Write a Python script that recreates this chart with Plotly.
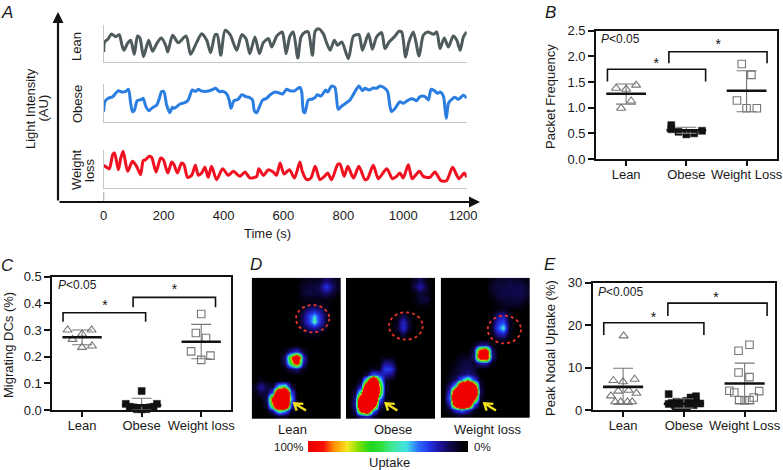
import plotly.graph_objects as go

W, H = 783, 470
FONT = "Liberation Sans"
TXT = "#1a1a1a"

# ---------- Panel A ----------
lean_t = [0,3,14,26,40,52,61,68,79,90,102,113,121,133,150,163,177,192,207,214,230,249,275,290,310,327,344,357,372,379,391,405,422,444,461,475,488,505,520,533,550,561,578,596,603,609,622,633,648,659,674,683,697,706,717,733,744,756,770,781,795,817,834,852,864,884,897,911,928,939,953,973,986,995,1008,1019,1034,1053,1067,1082,1101,1112,1123,1137,1151,1167,1179,1190,1201,1212]
lean_v = [31,61,69,85,77,83,51,36,56,66,24,79,73,17,66,33,56,73,51,31,81,59,79,24,59,86,66,29,83,83,21,96,83,36,83,71,26,76,26,59,71,46,79,91,61,26,79,91,13,76,91,91,21,93,101,86,59,36,66,51,61,11,79,83,36,86,39,76,89,41,61,79,93,91,16,61,91,19,81,91,84,91,41,73,46,79,66,36,76,91]
obese_t = [0,4,15,30,40,49,60,74,83,90,96,102,112,127,132,141,151,160,177,186,193,201,210,221,229,235,255,271,282,296,307,316,327,344,360,374,386,397,411,419,425,435,449,461,475,486,497,503,511,520,531,544,555,572,583,597,611,622,636,655,661,667,672,683,697,706,713,726,741,748,761,772,783,795,808,822,837,852,864,872,886,900,911,923,939,948,956,961,973,989,1000,1017,1030,1045,1056,1073,1084,1093,1104,1115,1123,1134,1140,1144,1151,1162,1173,1184,1201,1212]
obese_v = [31,61,71,76,86,94,90,92,98,56,31,34,64,68,71,46,34,41,51,71,91,91,51,28,44,41,54,58,66,96,92,98,93,92,96,101,91,92,84,66,41,64,68,82,76,74,66,34,28,46,66,71,81,90,88,84,98,94,93,104,91,31,28,66,69,74,82,78,96,90,108,104,38,48,56,66,88,108,94,101,96,102,101,108,101,91,46,31,41,61,56,66,70,64,76,76,66,98,94,86,90,78,36,11,56,68,74,68,80,72]
loss_t = [0,10,19,30,36,49,57,65,80,96,110,123,132,140,152,160,175,190,199,214,227,235,246,260,268,280,294,306,316,327,338,349,360,377,397,416,433,455,472,488,511,518,533,550,566,577,589,602,620,637,655,663,678,692,706,722,737,748,761,781,789,803,815,834,852,872,881,900,917,945,964,978,989,1000,1017,1030,1054,1067,1089,1106,1126,1145,1165,1186,1204,1212]
loss_v = [68,62,58,100,105,55,90,110,50,80,65,40,82,85,95,92,48,90,85,45,78,70,45,75,70,32,38,68,38,45,62,32,65,25,58,38,50,35,48,30,35,58,38,55,48,38,75,42,55,30,78,50,25,30,65,25,35,45,25,70,72,35,65,30,65,25,28,68,28,58,28,35,45,30,70,28,50,35,32,48,22,22,62,28,45,32]
time_ticks = [0,200,400,600,800,1000,1200]
line_colors = ["#4e5a5b", "#2a7de1", "#f01020"]

# ---------- Panels B, C, E ----------
group_names_b = ["Lean", "Obese", "Weight Loss"]
group_names_c = ["Lean", "Obese", "Weight loss"]

b_x = [[-0.166,0,0.166,0.083,-0.083],[0.75,0.75,0.87,1.0,1.13,1.26],[1.92,2.08,1.84,2.0,2.17]]
b_y = [[1.38,1.36,1.44,1.13,0.99],[0.66,0.58,0.53,0.48,0.5,0.55],[1.85,1.64,1.14,0.99,0.99]]
b_mean = [1.27,0.56,1.33]
b_hi = [1.46,0.62,1.72]
b_lo = [1.07,0.5,0.92]
b_br_x = [[-0.31,1.32],[0.71,2.34]]
b_br_top = [1.75,2.09]
b_br_leg = [1.51,1.865]
b_star_x = [0.5,1.53]
b_star_y = [1.84,2.21]

c_x = [[-0.244,0.16,0,-0.16,0,0.167],[1,0.733,1.256,0.86,1.14,1,0.92,1.08,0.8,1.2],[2,1.91,2.08,1.83,2.155,2]]
c_y = [[0.3,0.3,0.285,0.265,0.235,0.24],[0.071,0.023,0.023,0.01,0.01,0.003,0.003,0.003,0.012,0.012],[0.36,0.289,0.27,0.22,0.204,0.188]]
c_mean = [0.273,0.018,0.256]
c_hi = [0.3,0.044,0.321]
c_lo = [0.245,0.0,0.192]
c_br_x = [[-0.32,1.067],[0.856,2.24]]
c_br_top = [0.365,0.4225]
c_br_leg = [0.331,0.385]
c_star_x = [0.383,1.55]
c_star_y = [0.389,0.448]

e_x = [[0.01,-0.16,0,0.19,-0.08,0.09,-0.2,0.22,-0.13,-0.04,0.07,0.15],
       [0.75,1.11,1.2,0.8,0.88,0.96,1.04,1.12,1.2,1.27,0.75,0.85,0.92,1.0,1.08,1.16,0.95,1.05,0.87],
       [2.08,1.9,1.9,2.08,1.75,1.83,2.24,2.15,1.91,2.0,2.08]]
e_y = [[17.5,7,6.7,7.3,4.5,4.7,3.4,4,2,2,2,2],
       [3.8,3,3.3,1.7,2.0,1.8,2.2,2.0,1.8,1.6,1.5,1.2,1.4,1.7,1.4,1.2,0.6,0.7,0.8],
       [15.4,14,8.9,7.8,4.6,4.2,4.5,3,2.4,2.3,2.4]]
e_mean = [5.5,1.55,6.3]
e_hi = [9.9,2.7,11.1]
e_lo = [1.4,0.5,1.6]
e_br_x = [[-0.318,1.33],[0.737,2.37]]
e_br_top = [20.6,25.2]
e_br_leg = [17.7,22.2]
e_star_x = [0.5,1.53]
e_star_y = [21.6,26.2]

# ---------- Panel D ----------
lean_scan = [
 [0,0,0,0,0,0,0,0,2,3,3,4,9,6,2],
 [0,0,0,0,0,0,0,0,4,5,5,8,24,10,3],
 [0,0,0,0,0,0,0,0,4,6,5,6,10,5,2],
 [0,0,0,0,0,0,0,0,2,2,2,2,2,1,0],
 [0,0,0,0,0,0,0,0,1,2,3,2,1,0,0],
 [0,0,0,0,0,0,0,0,4,12,15,10,3,0,0],
 [0,0,0,0,0,0,0,0,8,24,40,20,4,0,0],
 [0,0,0,0,0,0,0,0,8,24,48,20,4,0,0],
 [0,0,0,0,0,0,0,0,4,10,14,9,2,0,0],
 [0,0,0,0,0,0,0,0,1,2,2,1,0,0,0],
 [0,0,0,0,0,0,0,0,0,0,0,0,0,0,0],
 [0,0,0,0,0,0,0,1,0,0,0,0,0,0,0],
 [0,0,0,0,0,2,14,22,5,0,0,0,0,0,0],
 [0,0,0,0,0,10,85,170,20,0,0,0,0,0,0],
 [0,0,0,0,0,7,65,125,16,0,0,0,0,0,0],
 [0,0,0,0,0,1,7,11,2,0,0,0,0,0,0],
 [0,0,0,0,0,0,0,0,0,0,0,0,0,0,0],
 [0,3,1,0,1,1,0,0,0,0,0,0,0,0,0],
 [3,14,6,4,50,60,6,0,0,0,0,0,0,0,0],
 [1,6,4,30,240,260,28,0,0,0,0,0,0,0,0],
 [0,1,8,125,310,290,40,0,0,0,0,0,0,0,0],
 [0,0,5,85,280,230,26,0,0,0,0,0,0,0,0],
 [0,0,1,14,60,42,4,0,0,0,0,0,0,0,0],
 [0,0,0,1,4,3,0,0,0,0,0,0,0,0,0],
]
obese_scan = [
 [0,0,0,0,0,0,0,0,0,0,0,3,8,2,0],
 [0,0,0,0,0,0,0,0,0,0,0,6,15,5,0],
 [0,0,0,0,0,0,0,0,0,0,0,1,5,3,0],
 [0,0,0,0,0,0,0,0,0,0,0,1,5,6,0],
 [0,0,0,0,0,0,0,0,0,0,0,0,2,2,0],
 [0,0,0,0,0,0,0,0,0,0,0,0,0,0,0],
 [0,0,0,0,0,0,0,0,0,7,1,0,0,0,0],
 [0,0,0,0,0,0,0,0,3,18,4,0,0,0,0],
 [0,0,0,0,0,0,0,0,4,20,5,0,0,0,0],
 [0,0,0,0,0,0,0,0,0,7,0,0,0,0,0],
 [0,0,0,0,0,0,0,0,0,0,0,0,0,0,0],
 [0,0,0,0,0,0,0,0,0,0,0,0,0,0,0],
 [0,0,0,0,0,0,0,0,0,0,0,0,0,0,0],
 [0,0,0,0,0,0,2,1,0,0,0,0,0,0,0],
 [0,0,0,0,0,0,12,10,0,0,0,0,0,0,0],
 [0,0,0,0,2,3,25,23,1,0,0,0,0,0,0],
 [0,0,0,5,30,22,14,10,0,0,0,0,0,0,0],
 [0,0,4,75,240,60,4,0,0,0,0,0,0,0,0],
 [0,2,18,190,300,95,6,0,0,0,0,0,0,0,0],
 [0,6,65,300,320,90,4,0,0,0,0,0,0,0,0],
 [0,12,170,340,260,38,2,0,0,0,0,0,0,0,0],
 [0,14,190,320,160,14,0,0,0,0,0,0,0,0,0],
 [0,8,130,190,36,4,0,0,0,0,0,0,0,0,0],
 [0,2,12,16,5,0,0,0,0,0,0,0,0,0,0],
]
loss_scan = [
 [0,0,0,0,0,0,0,0,2,4,4,5,4,4,2],
 [0,0,0,0,0,0,0,0,4,6,5,7,6,7,4],
 [0,0,0,0,0,0,0,0,3,5,6,6,7,7,4],
 [0,0,0,0,0,0,0,0,1,4,5,5,5,5,3],
 [0,0,0,0,0,0,0,0,0,1,3,4,4,3,1],
 [0,0,0,0,0,0,0,0,0,2,3,1,0,0,0],
 [0,0,0,0,0,0,0,0,1,12,16,3,0,0,0],
 [0,0,0,0,0,0,0,0,2,20,26,4,0,0,0],
 [0,0,0,0,0,0,0,0,3,28,46,4,0,0,0],
 [0,0,0,0,0,0,0,0,2,15,21,3,0,0,0],
 [0,0,0,0,0,0,0,0,0,4,5,0,0,0,0],
 [0,0,0,0,0,1,10,12,1,0,0,0,0,0,0],
 [0,0,0,0,0,8,120,135,10,0,0,0,0,0,0],
 [0,0,1,3,3,9,140,160,12,0,0,0,0,0,0],
 [0,0,2,5,6,4,14,16,2,0,0,0,0,0,0],
 [0,1,3,6,7,5,0,0,0,0,0,0,0,0,0],
 [0,2,5,8,12,7,0,0,0,0,0,0,0,0,0],
 [0,3,9,35,60,26,2,0,0,0,0,0,0,0,0],
 [0,10,45,220,300,140,6,0,0,0,0,0,0,0,0],
 [0,22,190,320,340,220,8,0,0,0,0,0,0,0,0],
 [0,34,240,340,320,130,4,0,0,0,0,0,0,0,0],
 [0,18,170,300,200,30,1,0,0,0,0,0,0,0,0],
 [0,5,24,40,20,4,0,0,0,0,0,0,0,0,0],
 [0,0,3,4,2,0,0,0,0,0,0,0,0,0,0],
]
uptake_levels = [100,95,91,89,87,85,83,80,76,70,65,60,53,48,45,42,40,36,32,27,22,17,12,8,5,2,0]
uptake_scale = [[0,"#000000"],[0.05,"#0c0738"],[0.12,"#1c1090"],[0.22,"#2030e0"],[0.32,"#2a6cff"],
                [0.40,"#40e0e0"],[0.45,"#40e8a0"],[0.53,"#30e040"],[0.65,"#20d820"],[0.76,"#80e000"],
                [0.83,"#f5e820"],[0.875,"#ff9000"],[0.91,"#f81000"],[1,"#f00000"]]


def xd(a, b):
    return [a / W, b / W]


def yd(top, bottom):
    return [1 - bottom / H, 1 - top / H]


def note(px, py, text, size=13, angle=0, anchor="center", color=TXT):
    return dict(xref="paper", yref="paper", x=px / W, y=1 - py / H, text=text, showarrow=False,
                xanchor=anchor, yanchor="middle", textangle=angle, align="center",
                font=dict(family=FONT, size=size, color=color))


fig = go.Figure()
layout = dict(width=W, height=H, margin=dict(l=0, r=0, t=0, b=0, autoexpand=False), autosize=False, showlegend=False,
              paper_bgcolor="white", plot_bgcolor="rgba(0,0,0,0)",
              font=dict(family=FONT, size=13, color=TXT))
annotations = []
shapes = []

# --- A: main time axis
layout["xaxis"] = dict(domain=xd(58, 480), range=[-152.6, 1256.4], tickmode="array", tickvals=time_ticks,
                       showgrid=False, zeroline=False, ticks="outside", ticklen=1, tickcolor="rgba(0,0,0,0)",
                       anchor="y", tickfont=dict(size=13, color=TXT))
layout["yaxis"] = dict(domain=yd(12, 202), range=[0, 19], visible=False, anchor="x")
fig.add_trace(go.Scatter(x=[0, 0], y=[0, 1], mode="lines", line=dict(color="#b5b8b8", width=1.2),
                         xaxis="x", yaxis="y", hoverinfo="skip"))

a_rows = [(25, 62.3, lean_t, lean_v), (83.5, 122, obese_t, obese_v), (150, 188, loss_t, loss_v)]
for i, (top, bot, t, v) in enumerate(a_rows):
    n = i + 2
    layout[f"xaxis{n}"] = dict(domain=xd(103.7, 466.7), range=[0, 1212], anchor=f"y{n}", showgrid=False,
                               zeroline=False, showticklabels=False, ticks="", showline=True,
                               linecolor="#c5c8c8", linewidth=1.2)
    layout[f"yaxis{n}"] = dict(domain=yd(top, bot), range=[0, (bot - top) * 3], anchor=f"x{n}", showgrid=False,
                               zeroline=False, showticklabels=False, ticks="", showline=True,
                               linecolor="#c5c8c8", linewidth=1.2)
    fig.add_trace(go.Scatter(x=t, y=v, mode="lines", line=dict(color=line_colors[i], width=3, shape="spline", smoothing=0.7),
                             xaxis=f"x{n}", yaxis=f"y{n}", hoverinfo="skip", cliponaxis=False))

# arrows of panel A
annotations.append(dict(xref="paper", yref="paper", x=58 / W, y=1 - 12 / H, ax=0, ay=190, text="", showarrow=True,
                        arrowhead=2, arrowsize=1, arrowwidth=2.2, arrowcolor="#111111"))
annotations.append(dict(xref="paper", yref="paper", x=480 / W, y=1 - 202 / H, ax=-422, ay=0, text="", showarrow=True,
                        arrowhead=2, arrowsize=1, arrowwidth=2.2, arrowcolor="#111111"))
annotations += [
    note(7, 12, "<i>A</i>", 17),
    note(30, 108, "Light Intensity", 13, -90),
    note(42.5, 108, "(AU)", 13, -90),
    note(77, 47, "Lean", 13, -90),
    note(77, 104, "Obese", 13, -90),
    note(77, 170, "Weight", 13, -90),
    note(90, 170, "loss", 13, -90),
    note(267, 234, "Time (s)", 13),
]


# --- dot panels
def dot_panel(n, box, yrange, ytickvals, yticktext, names, xs, ys, mean, hi, lo, br_x, br_top, br_leg, star_x, star_y, p_text, p_px, ylabel, y_px, letter, letter_px):
    left, right, top, bottom = box
    x_name = f"xaxis{n}"
    y_name = f"yaxis{n}"
    layout[x_name] = dict(domain=xd(left, right), range=[-0.5, 2.5], anchor=f"y{n}", tickmode="array",
                          tickvals=[0, 1, 2], ticktext=names, tickangle=0, showgrid=False, zeroline=False,
                          ticks="outside", ticklen=5, tickwidth=1.5, tickcolor="#111111", showline=True,
                          linecolor="#111111", linewidth=1.8, mirror=True, ticklabelstandoff=-3,
                          tickfont=dict(size=13, color=TXT))
    layout[y_name] = dict(domain=yd(top, bottom), range=yrange, anchor=f"x{n}", tickmode="array",
                          tickvals=ytickvals, ticktext=yticktext, showgrid=False, zeroline=False,
                          ticks="outside", ticklen=6, tickwidth=1.5, tickcolor="#111111", showline=True,
                          linecolor="#111111", linewidth=1.8, mirror=True, tickfont=dict(size=13, color=TXT))
    styles = [dict(symbol="triangle-up-open", size=8, color="#777777", line=dict(width=1.1, color="#777777")),
              dict(symbol="square", size=7, color="#111111", line=dict(width=0.5, color="#111111")),
              dict(symbol="square-open", size=7.5, color="#777777", line=dict(width=1.1, color="#777777"))]
    for g in range(3):
        fig.add_trace(go.Scatter(x=xs[g], y=ys[g], mode="markers", marker=styles[g], xaxis=f"x{n}", yaxis=f"y{n}",
                                 cliponaxis=False, hoverinfo="skip"))
        fig.add_trace(go.Scatter(x=[g], y=[mean[g]], mode="markers", marker=dict(size=1, color="rgba(0,0,0,0)"),
                                 error_x=dict(type="data", array=[0.33], thickness=2.6, width=0, color="#111111"),
                                 error_y=dict(type="data", symmetric=False, array=[hi[g] - mean[g]],
                                              arrayminus=[mean[g] - lo[g]], thickness=1.1, width=10, color="#777777"),
                                 xaxis=f"x{n}", yaxis=f"y{n}", cliponaxis=False, hoverinfo="skip"))
    for k in range(2):
        fig.add_trace(go.Scatter(x=[br_x[k][0], br_x[k][0], br_x[k][1], br_x[k][1]],
                                 y=[br_leg[k], br_top[k], br_top[k], br_leg[k]], mode="lines",
                                 line=dict(color="#111111", width=1.6), xaxis=f"x{n}", yaxis=f"y{n}", hoverinfo="skip"))
    fig.add_trace(go.Scatter(x=star_x, y=star_y, mode="text", text=["*", "*"], textposition="middle center",
                             textfont=dict(family=FONT, size=14, color="#111111"), xaxis=f"x{n}", yaxis=f"y{n}", hoverinfo="skip"))
    annotations.append(note(p_px[0], p_px[1], p_text, 12, 0, "left"))
    annotations.append(note(y_px[0], y_px[1], ylabel, 13, -90))
    annotations.append(note(letter_px[0], letter_px[1], f"<i>{letter}</i>", 17))


dot_panel(5, (596, 776.7, 30.7, 159), [0, 2.5], [0, 0.5, 1, 1.5, 2, 2.5], ["0.0", "0.5", "1.0", "1.5", "2.0", "2.5"],
          group_names_b, b_x, b_y, b_mean, b_hi, b_lo, b_br_x, b_br_top, b_br_leg, b_star_x, b_star_y,
          "<i>P</i>&lt;0.05", (599, 39), "Packet Frequency", (550, 97), "B", (550, 12))
dot_panel(6, (52.3, 231, 276.7, 410), [0, 0.5], [0, 0.1, 0.2, 0.3, 0.4, 0.5], ["0.0", "0.1", "0.2", "0.3", "0.4", "0.5"],
          group_names_c, c_x, c_y, c_mean, c_hi, c_lo, c_br_x, c_br_top, c_br_leg, c_star_x, c_star_y,
          "<i>P</i>&lt;0.05", (56, 285), "Migrating DCs (%)", (8, 345), "C", (7, 265))
dot_panel(7, (592.7, 775, 282.7, 410.3), [0, 30], [0, 10, 20, 30], ["0", "10", "20", "30"],
          group_names_b, e_x, e_y, e_mean, e_hi, e_lo, e_br_x, e_br_top, e_br_leg, e_star_x, e_star_y,
          "<i>P</i>&lt;0.005", (596, 291.7), "Peak Nodal Uptake (%)", (550, 348), "E", (550, 264))

# --- D: scans
scan_boxes = [(251.7, 341, 277.7, 419), (346, 435.3, 277.7, 419), (440.7, 530, 277.7, 418)]
scans = [lean_scan, obese_scan, loss_scan]
for i, (l, r, t, b) in enumerate(scan_boxes):
    n = 8 + i
    layout[f"xaxis{n}"] = dict(domain=xd(l, r), range=[-0.5, 14.5], visible=False, anchor=f"y{n}")
    layout[f"yaxis{n}"] = dict(domain=yd(t, b), range=[23.5, -0.5], visible=False, anchor=f"x{n}")
    fig.add_trace(go.Heatmap(z=scans[i], x0=0, dx=1, y0=0, dy=1, colorscale=uptake_scale, zmin=0, zmax=100,
                             zsmooth="best", showscale=False, xaxis=f"x{n}", yaxis=f"y{n}", hoverinfo="skip"))

layout["xaxis11"] = dict(domain=xd(308, 468), range=[-0.5, len(uptake_levels) - 0.5], visible=False, anchor="y11")
layout["yaxis11"] = dict(domain=yd(441, 452), range=[-0.5, 0.5], visible=False, anchor="x11")
fig.add_trace(go.Heatmap(z=[uptake_levels], colorscale=uptake_scale, zmin=0, zmax=100, zsmooth="best", showscale=False,
                         xaxis="x11", yaxis="y11", hoverinfo="skip"))

ellipses = [(296, 329.3, 305, 332.3), (389, 422.7, 312.3, 339.7), (487.7, 521, 315.7, 343.3)]
for (x0, x1, y0, y1) in ellipses:
    shapes.append(dict(type="circle", xref="paper", yref="paper", x0=x0 / W, x1=x1 / W, y0=1 - y0 / H, y1=1 - y1 / H,
                       line=dict(color="#e8352a", width=1.8, dash="dot")))


def paper_path(points):
    return "M " + " L ".join(f"{px / W:.5f} {1 - py / H:.5f}" for px, py in points)


for tip_x in [294.3, 385.7, 484.3]:
    tip_y = 403.3
    chevron = [(tip_x + 9, tip_y + 0.6), (tip_x, tip_y), (tip_x + 2.3, tip_y + 7.3)]
    shaft = [(tip_x, tip_y), (tip_x + 11.7, tip_y + 7.3)]
    shapes.append(dict(type="path", xref="paper", yref="paper", path=paper_path(chevron), line=dict(color="#f5e020", width=2.4)))
    shapes.append(dict(type="path", xref="paper", yref="paper", path=paper_path(shaft), line=dict(color="#f5e020", width=2.4)))

annotations += [
    note(255.7, 264, "<i>D</i>", 17),
    note(292.7, 429, "Lean", 13),
    note(392.7, 429, "Obese", 13),
    note(487.7, 429, "Weight loss", 13),
    note(288.7, 446.7, "100%", 11.5),
    note(482, 447, "0%", 11.5),
    note(389, 462.7, "Uptake", 13),
]

layout["annotations"] = annotations
layout["shapes"] = shapes
fig.update_layout(**layout)
fig.write_html("out.html", config={"displayModeBar": False},
               post_script="document.body.style.margin='0';document.body.style.overflow='hidden';")
